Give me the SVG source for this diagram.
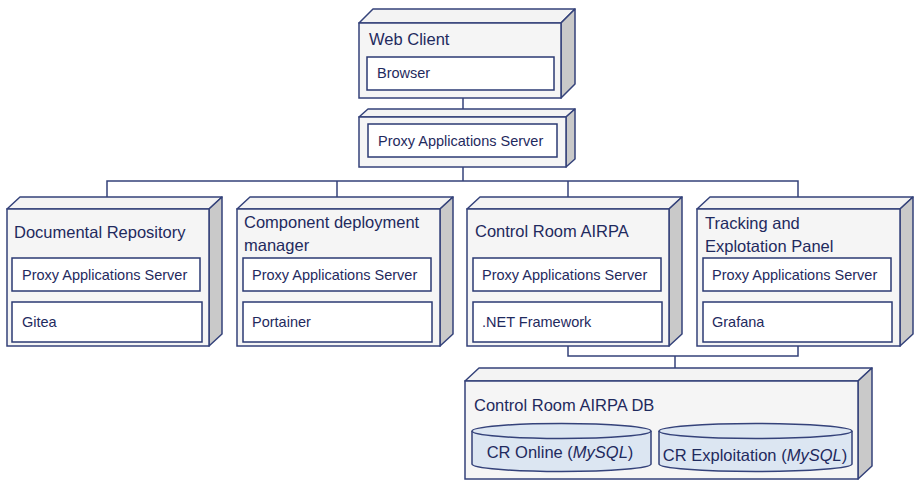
<svg xmlns="http://www.w3.org/2000/svg" width="914" height="480" viewBox="0 0 914 480">
<style>
.face{fill:#F5F5F5;stroke:#34427A;stroke-width:1.5}
.top{fill:#F3F3F3;stroke:#34427A;stroke-width:1.5;stroke-linejoin:round}
.side{fill:#C9C9C9;stroke:#34427A;stroke-width:1.5;stroke-linejoin:round}
.inner{fill:#FFFFFF;stroke:#2B3A73;stroke-width:1.5}
.cyl{fill:#DCE6F2;stroke:#34427A;stroke-width:1.5}
.conn{fill:none;stroke:#34427A;stroke-width:1.5}
text{font-family:"Liberation Sans",Arial,sans-serif;fill:#1F2A5E}
.t{font-size:16.5px}
.s{font-size:14.5px}
</style>
<g id="connectors">
<path class="conn" d="M463 98V109"/>
<path class="conn" d="M463 167V181"/>
<path class="conn" d="M107 197V181H798V197"/>
<path class="conn" d="M337 181V197"/>
<path class="conn" d="M568 181V197"/>
<path class="conn" d="M568 345V356H798V346"/>
<path class="conn" d="M675 356V368"/>
</g>
<g id="web-client">
<polygon class="top" points="359,23 373,9 575,9 561,23"/>
<polygon class="side" points="561,23 575,9 575,84 561,98"/>
<rect class="face" x="359" y="23" width="202" height="75"/>
<text class="t" x="369" y="45">Web Client</text>
<rect class="inner" x="367" y="57" width="187" height="33"/>
<text class="s" x="377" y="78">Browser</text>
</g>
<g id="proxy-server">
<polygon class="top" points="359,117 368,109 575,109 566,117"/>
<polygon class="side" points="566,117 575,109 575,159 566,167"/>
<rect class="face" x="359" y="117" width="207" height="50"/>
<rect class="inner" x="368" y="124" width="189" height="33"/>
<text class="s" x="378" y="146">Proxy Applications Server</text>
</g>
<g id="documental-repository">
<polygon class="top" points="7,209 20,197 222,197 209,209"/>
<polygon class="side" points="209,209 222,197 222,334 209,346"/>
<rect class="face" x="7" y="209" width="202" height="137"/>
<text class="t" x="14" y="238">Documental Repository</text>
<rect class="inner" x="12" y="258" width="188" height="33"/>
<text class="s" x="22" y="280">Proxy Applications Server</text>
<rect class="inner" x="12" y="302" width="190" height="40"/>
<text class="s" x="22" y="327">Gitea</text>
</g>
<g id="component-deployment-manager">
<polygon class="top" points="237,209 250,197 453,197 440,209"/>
<polygon class="side" points="440,209 453,197 453,334 440,346"/>
<rect class="face" x="237" y="209" width="203" height="137"/>
<text class="t" x="244" y="228">Component deployment</text>
<text class="t" x="244" y="251">manager</text>
<rect class="inner" x="243" y="258" width="188" height="33"/>
<text class="s" x="252" y="280">Proxy Applications Server</text>
<rect class="inner" x="243" y="302" width="189" height="40"/>
<text class="s" x="252" y="327">Portainer</text>
</g>
<g id="control-room-airpa">
<polygon class="top" points="467,209 480,197 682,197 669,209"/>
<polygon class="side" points="669,209 682,197 682,334 669,346"/>
<rect class="face" x="467" y="209" width="202" height="137"/>
<text class="t" x="475" y="237">Control Room AIRPA</text>
<rect class="inner" x="473" y="258" width="188" height="33"/>
<text class="s" x="482" y="280">Proxy Applications Server</text>
<rect class="inner" x="473" y="302" width="189" height="40"/>
<text class="s" x="482" y="327">.NET Framework</text>
</g>
<g id="tracking-panel">
<polygon class="top" points="697,209 710,197 913,197 900,209"/>
<polygon class="side" points="900,209 913,197 913,334 900,346"/>
<rect class="face" x="697" y="209" width="203" height="137"/>
<text class="t" x="705" y="229">Tracking and</text>
<text class="t" x="705" y="252">Explotation Panel</text>
<rect class="inner" x="703" y="258" width="188" height="33"/>
<text class="s" x="712" y="280">Proxy Applications Server</text>
<rect class="inner" x="703" y="302" width="189" height="40"/>
<text class="s" x="712" y="327">Grafana</text>
</g>
<g id="control-room-airpa-db">
<polygon class="top" points="465,381 479,368 872,368 858,381"/>
<polygon class="side" points="858,381 872,368 872,466 858,479"/>
<rect class="face" x="465" y="381" width="393" height="98"/>
<text class="t" x="474" y="411">Control Room AIRPA DB</text>
<g id="cr-online">
<path class="cyl" d="M472 431V464A89.5 7.5 0 0 0 651 464V431"/>
<ellipse class="cyl" cx="561.5" cy="431" rx="89.5" ry="7.5"/>
<text class="t" x="560" y="458" text-anchor="middle">CR Online (<tspan font-style="italic">MySQL</tspan>)</text>
</g>
<g id="cr-exploitation">
<path class="cyl" d="M659 431V464A96.5 7.5 0 0 0 852 464V431"/>
<ellipse class="cyl" cx="755.5" cy="431" rx="96.5" ry="7.5"/>
<text class="t" x="755" y="461" text-anchor="middle">CR Exploitation (<tspan font-style="italic">MySQL</tspan>)</text>
</g>
</g>
</svg>
